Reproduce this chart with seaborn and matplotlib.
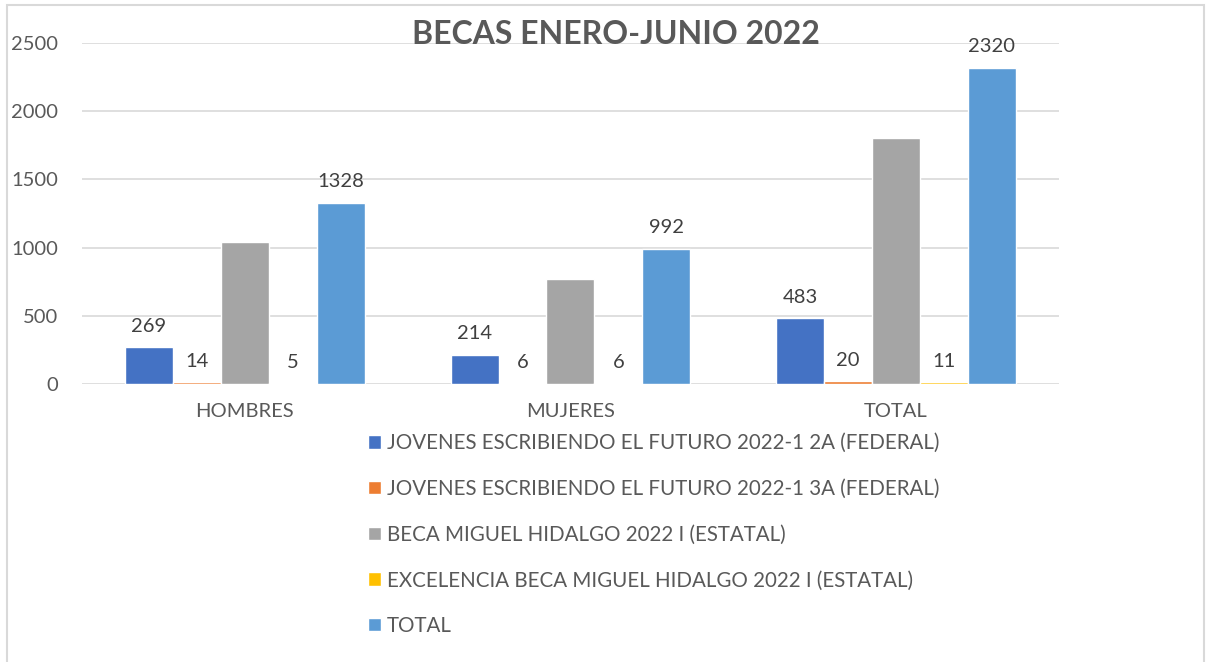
import matplotlib
matplotlib.use("Agg")
import matplotlib.pyplot as plt
import seaborn as sns
import pandas as pd
from matplotlib.patches import Rectangle

categories = ["HOMBRES", "MUJERES", "TOTAL"]
series_names = [
    "JOVENES ESCRIBIENDO EL FUTURO 2022-1 2A (FEDERAL)",
    "JOVENES ESCRIBIENDO EL FUTURO 2022-1 3A (FEDERAL)",
    "BECA MIGUEL HIDALGO 2022 I (ESTATAL)",
    "EXCELENCIA BECA MIGUEL HIDALGO 2022 I (ESTATAL)",
    "TOTAL",
]
jef_2a = [269, 214, 483]
jef_3a = [14, 6, 20]
beca_mh = [1040, 766, 1806]
excelencia_mh = [5, 6, 11]
total = [1328, 992, 2320]
colors = ["#4472C4", "#ED7D31", "#A5A5A5", "#FFC000", "#5B9BD5"]
show_labels = [True, True, False, True, True]

series_values = [jef_2a, jef_3a, beca_mh, excelencia_mh, total]
rows = []
for name, vals in zip(series_names, series_values):
    for cat, v in zip(categories, vals):
        rows.append({"cat": cat, "serie": name, "valor": v})
df = pd.DataFrame(rows)

sns.set_theme(style="white")
plt.rcParams["font.family"] = ["Lato", "DejaVu Sans"]

fig = plt.figure(figsize=(12.09, 6.62), dpi=100)
ax = fig.add_axes([0.0678, 0.42, 0.808, 0.515])

sns.barplot(data=df, x="cat", y="valor", hue="serie", order=categories,
            hue_order=series_names, palette=colors, width=0.736,
            saturation=1, ax=ax, legend=True)

for cont, show in zip(ax.containers, show_labels):
    if show:
        ax.bar_label(cont, padding=9, fontsize=14.5, color="#404040")

ax.set_ylim(0, 2500)
ax.set_xlim(-0.5, 2.5)
ax.set_yticks([0, 500, 1000, 1500, 2000, 2500])
ax.yaxis.grid(True, color="#D9D9D9", linewidth=1.2)
ax.set_axisbelow(True)
for s in ax.spines.values():
    s.set_visible(False)
ax.tick_params(axis="both", length=0, labelsize=14.5, labelcolor="#595959")
ax.tick_params(axis="y", pad=17)
ax.tick_params(axis="x", pad=14)
ax.set_xlabel("")
ax.set_ylabel("")

leg = ax.get_legend()
handles = leg.legend_handles
leg.remove()
fig.legend(handles, series_names, loc="upper left",
           bbox_to_anchor=(0.296, 0.361), frameon=False, fontsize=14.8,
           labelspacing=1.25, handlelength=0.62, handleheight=0.62,
           handletextpad=0.3, borderpad=0, labelcolor="#595959")

fig.text(0.5095, 0.948, "BECAS ENERO-JUNIO 2022", ha="center", va="center",
         fontsize=23, fontweight="bold", color="#595959")

fig.patches.append(Rectangle((0.006, -0.01), 0.99, 1.003, transform=fig.transFigure,
                             fill=False, edgecolor="#D9D9D9", linewidth=1.5))

fig.savefig("out.png", dpi=100)
